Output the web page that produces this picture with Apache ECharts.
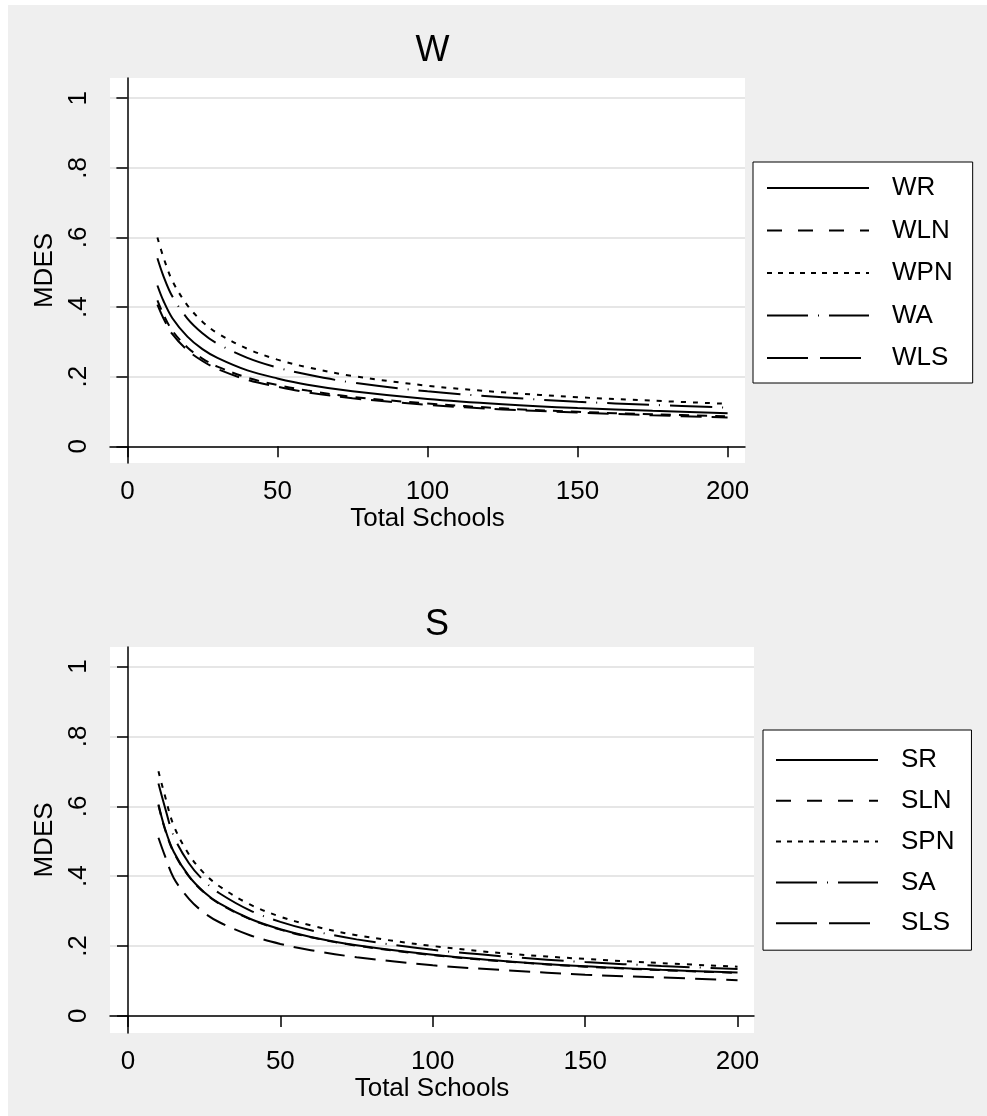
<!DOCTYPE html>
<html>
<head>
<meta charset="utf-8">
<script src="https://cdn.jsdelivr.net/npm/echarts@6/dist/echarts.min.js"></script>
<style>
body { margin: 0; background: #fff; }
#main { position: absolute; left: 8px; top: 5px; width: 979px; height: 1111px; }
</style>
</head>
<body>
<div id="main"></div>
<script>
"use strict";
// total schools (x)
var schools = [10, 12, 15, 20, 25, 30, 40, 50, 60, 75, 100, 125, 150, 175, 200];

// W panel
var WR  = [0.462, 0.418, 0.368, 0.315, 0.279, 0.254, 0.218, 0.195, 0.177, 0.158, 0.136, 0.121, 0.110, 0.102, 0.095];
var WLN = [0.419, 0.379, 0.332, 0.284, 0.252, 0.229, 0.197, 0.176, 0.160, 0.142, 0.123, 0.109, 0.099, 0.092, 0.086];
var WPN = [0.600, 0.543, 0.475, 0.405, 0.358, 0.325, 0.280, 0.249, 0.227, 0.202, 0.174, 0.155, 0.141, 0.131, 0.122];
var WA  = [0.540, 0.489, 0.430, 0.367, 0.325, 0.295, 0.254, 0.226, 0.206, 0.183, 0.158, 0.141, 0.128, 0.119, 0.111];
var WLS = [0.407, 0.368, 0.322, 0.276, 0.245, 0.222, 0.191, 0.171, 0.155, 0.138, 0.119, 0.106, 0.097, 0.089, 0.083];

// S panel
var SR  = [0.605, 0.540, 0.470, 0.400, 0.354, 0.322, 0.278, 0.248, 0.226, 0.202, 0.175, 0.156, 0.142, 0.132, 0.124];
var SLN = [0.603, 0.538, 0.468, 0.399, 0.353, 0.321, 0.277, 0.247, 0.225, 0.201, 0.174, 0.155, 0.141, 0.131, 0.123];
var SPN = [0.700, 0.634, 0.545, 0.462, 0.408, 0.371, 0.319, 0.284, 0.259, 0.231, 0.200, 0.178, 0.163, 0.151, 0.141];
var SA  = [0.665, 0.601, 0.515, 0.437, 0.386, 0.351, 0.302, 0.269, 0.245, 0.219, 0.189, 0.169, 0.154, 0.143, 0.134];
var SLS = [0.510, 0.461, 0.395, 0.335, 0.295, 0.268, 0.231, 0.206, 0.188, 0.168, 0.145, 0.130, 0.118, 0.110, 0.102];

var xTicks = [0, 50, 100, 150, 200];
var yTicks = [0, 0.2, 0.4, 0.6, 0.8, 1];

var FONT = '"Liberation Sans", Arial, Helvetica, sans-serif';
// solid, dash, shortdash, longdash_dot, longdash
var plotDash   = ['solid', [10, 8], [5, 7], [42, 10, 1, 10], [21, 10]];
var legendDash = ['solid', [15, 16], [5, 6], [41, 10, 1, 10], [41, 12]];

function pairs(ys) {
    return schools.map(function (x, i) { return [x, ys[i]]; });
}

function yFmt(v) {
    if (v === 0) return '0';
    if (v === 1) return '1';
    return String(v).replace('0.', '.');
}

function xAxisOpt(idx, min, max) {
    return {
        type: 'value', gridIndex: idx, min: min, max: max,
        name: 'Total Schools', nameLocation: 'middle', nameGap: 43,
        nameTextStyle: { fontSize: 26, color: '#000', fontFamily: FONT },
        axisLine: { lineStyle: { color: '#000', width: 1.5 } },
        axisTick: { customValues: xTicks, length: 11, lineStyle: { color: '#000', width: 1.5 } },
        axisLabel: { customValues: xTicks, margin: 16, fontSize: 26, color: '#000', fontFamily: FONT },
        splitLine: { show: false }
    };
}

function yAxisOpt(idx, min, max) {
    return {
        type: 'value', gridIndex: idx, min: min, max: max,
        name: 'MDES', nameLocation: 'middle', nameGap: 50, nameRotate: 90,
        nameTextStyle: { fontSize: 26, color: '#000', fontFamily: FONT },
        axisLine: { show: true, lineStyle: { color: '#000', width: 1.5 } },
        axisTick: { show: true, customValues: yTicks, length: 11, lineStyle: { color: '#000', width: 1.5 } },
        axisLabel: { customValues: yTicks, rotate: 90, margin: 18, fontSize: 26, color: '#000',
                     fontFamily: FONT, formatter: yFmt },
        splitLine: { show: true, lineStyle: { color: '#e6e6e6', width: 2 } }
    };
}

function makeSeries(names, lists, idx) {
    return names.map(function (n, i) {
        return {
            name: n, type: 'line', xAxisIndex: idx, yAxisIndex: idx,
            data: pairs(lists[i]), smooth: 0.35, symbol: 'none', silent: true,
            itemStyle: { color: '#000' },
            lineStyle: { color: '#000', width: 2, type: plotDash[i] }
        };
    });
}

function legendOpt(names, left, top, pad, gap) {
    return {
        orient: 'vertical', left: left, top: top, padding: pad, itemGap: gap,
        itemWidth: 102, itemHeight: 24,
        backgroundColor: '#fff', borderColor: '#000', borderWidth: 1, borderRadius: 0,
        textStyle: { fontSize: 26, lineHeight: 24, color: '#000', fontFamily: FONT, padding: [0, 0, 0, 18] },
        data: names.map(function (n, i) {
            return {
                name: n,
                itemStyle: { opacity: 0 },
                lineStyle: { color: '#000', width: 2, type: legendDash[i] }
            };
        })
    };
}

var wNames = ['WR', 'WLN', 'WPN', 'WA', 'WLS'];
var sNames = ['SR', 'SLN', 'SPN', 'SA', 'SLS'];

var option = {
    backgroundColor: '#efefef',
    animation: false,
    title: [
        { text: 'W', left: 419.5, top: 23, textAlign: 'center',
          textStyle: { fontSize: 36, fontWeight: 'normal', color: '#000', fontFamily: FONT } },
        { text: 'S', left: 424, top: 597, textAlign: 'center',
          textStyle: { fontSize: 36, fontWeight: 'normal', color: '#000', fontFamily: FONT } }
    ],
    grid: [
        { left: 102, top: 73, width: 635, height: 385, show: true, backgroundColor: '#fff', borderWidth: 0 },
        { left: 102, top: 642, width: 644, height: 386, show: true, backgroundColor: '#fff', borderWidth: 0 }
    ],
    xAxis: [xAxisOpt(0, -5.8, 205.8), xAxisOpt(1, -5.9, 205.4)],
    yAxis: [yAxisOpt(0, -0.048, 1.058), yAxisOpt(1, -0.049, 1.056)],
    legend: [
        legendOpt(wNames, 745, 157, [13, 20, 12, 13], 16.5),
        legendOpt(sNames, 755, 725, [17, 17, 14, 12], 14.8)
    ],
    series: makeSeries(wNames, [WR, WLN, WPN, WA, WLS], 0)
        .concat(makeSeries(sNames, [SR, SLN, SPN, SA, SLS], 1))
};

var myChart = echarts.init(document.getElementById('main'));
myChart.setOption(option, true);
</script>
</body>
</html>
